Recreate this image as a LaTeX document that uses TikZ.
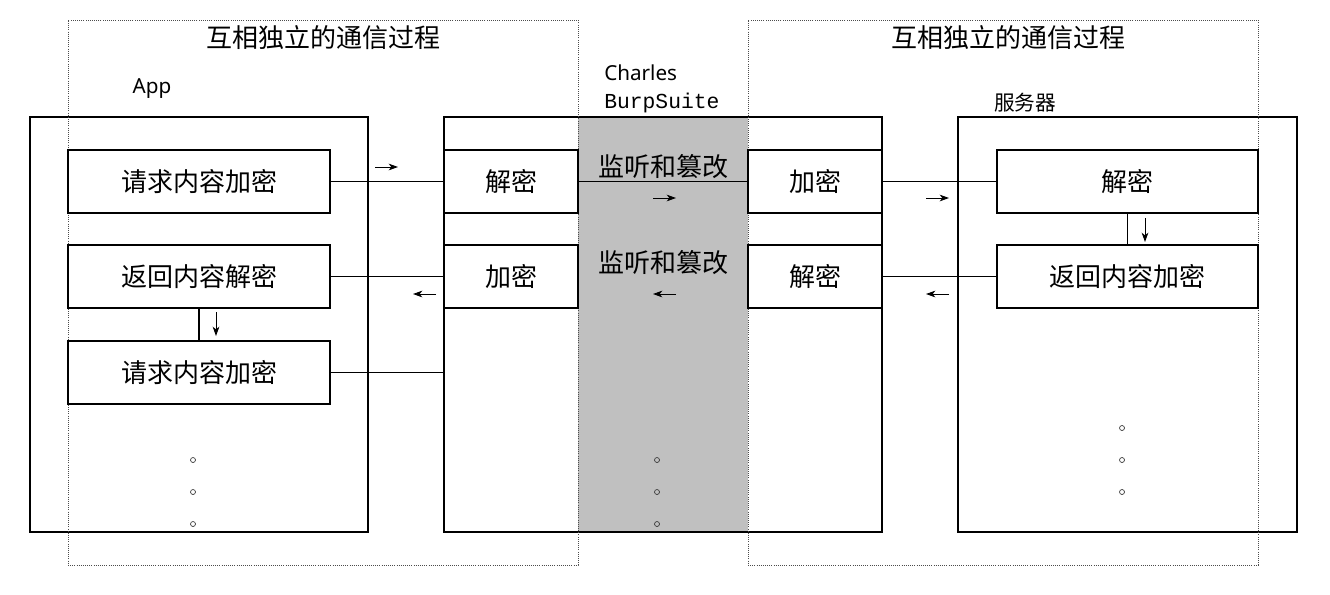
\documentclass[tikz,border=0pt]{standalone}
\usepackage{fontspec}
\newfontfamily\cjk{Noto Sans CJK SC}
\newfontfamily\latinsans{Noto Sans}
\newfontfamily\monof{Liberation Mono}
\usetikzlibrary{arrows.meta}
\definecolor{midgray}{RGB}{192,192,192}
\tikzset{
  px/.style={x=0.75pt,y=-0.75pt},
  outerbox/.style={draw=black,line width=1.1pt,inner sep=0pt},
  innerbox/.style={draw=black,line width=0.9pt,inner sep=0pt,font=\cjk\fontsize{19.5pt}{21pt}\selectfont},
  groupbox/.style={draw=black!70,densely dotted,line width=0.6pt,inner sep=0pt},
  conn/.style={line width=0.8pt},
  tiny/.style={line width=0.7pt,-{Stealth[length=7pt,width=5pt,inset=2pt]}},
  title/.style={font=\cjk\fontsize{19.5pt}{21pt}\selectfont,inner sep=0pt},
  lab/.style={font=\cjk\fontsize{15.5pt}{18pt}\selectfont,inner sep=0pt},
  latlab/.style={font=\latinsans\fontsize{15.5pt}{18pt}\selectfont,inner sep=0pt},
  dot/.style={draw=black!80,line width=0.5pt}
}
\begin{document}
\begin{tikzpicture}[px]
\useasboundingbox (0,0) rectangle (1330,594);
% gray interception area
\fill[midgray] (578,117) rectangle (748,532);
% outer boxes
\node[outerbox,minimum width=253.5pt,minimum height=311.25pt] (app) at (199,324.5) {};
\node[outerbox,minimum width=328.5pt,minimum height=311.25pt] (mid) at (663,324.5) {};
\node[outerbox,minimum width=254.25pt,minimum height=311.25pt] (srv) at (1127.5,324.5) {};
% dotted groups
\node[groupbox,minimum width=382.5pt,minimum height=408.75pt] (g1) at (323,292.5) {};
\node[groupbox,minimum width=382.5pt,minimum height=408.75pt] (g2) at (1003,292.5) {};
% titles and labels
\node[title] (t1) at (323,38) {互相独立的通信过程};
\node[title] (t2) at (1008,38) {互相独立的通信过程};
\node[latlab] (lapp) at (152,89) {App};
\node[latlab,anchor=west] (lch) at (604,73) {Charles};
\node[font=\monof\fontsize{16pt}{18pt}\selectfont,inner sep=0pt,anchor=west] (lbs) at (604,103) {BurpSuite};
\node[lab] (lsrv) at (1025,103) {服务器};
% App inner boxes
\node[innerbox,minimum width=196.5pt,minimum height=47.25pt] (a1) at (199,181.5) {请求内容加密};
\node[innerbox,minimum width=196.5pt,minimum height=47.25pt] (a2) at (199,276.5) {返回内容解密};
\node[innerbox,minimum width=196.5pt,minimum height=47.25pt] (a3) at (199,372.5) {请求内容加密};
% middle boxes
\node[innerbox,minimum width=100.5pt,minimum height=47.25pt] (m1) at (511,181.5) {解密};
\node[innerbox,minimum width=100.5pt,minimum height=47.25pt] (m2) at (511,276.5) {加密};
\node[innerbox,minimum width=100.5pt,minimum height=47.25pt] (r1) at (815,181.5) {加密};
\node[innerbox,minimum width=100.5pt,minimum height=47.25pt] (r2) at (815,276.5) {解密};
% server boxes
\node[innerbox,minimum width=195.75pt,minimum height=47.25pt] (s1) at (1127.5,181.5) {解密};
\node[innerbox,minimum width=195.75pt,minimum height=47.25pt] (s2) at (1127.5,276.5) {返回内容加密};
% gray texts
\node[title] (x1) at (663,167) {监听和篡改};
\node[title] (x2) at (663,263) {监听和篡改};
% connectors
\draw[conn] (a1.east) -- (m1.west);
\draw[conn] (a2.east) -- (m2.west);
\draw[conn] (a3.east) -- (a3.east -| mid.west);
\draw[conn] (m1.east) -- (r1.west);
\draw[conn] (r1.east) -- (s1.west);
\draw[conn] (r2.east) -- (s2.west);
\draw[conn] (a2.south) -- (a3.north);
\draw[conn] (s1.south) -- (s2.north);
% small direction arrows
\draw[tiny] (375,167) -- (398,167);
\draw[tiny] (436,294) -- (413,294);
\draw[tiny] (653,198) -- (676,198);
\draw[tiny] (676,294) -- (653,294);
\draw[tiny] (926,198) -- (949,198);
\draw[tiny] (949,294) -- (926,294);
\draw[tiny] (216,312) -- (216,336);
\draw[tiny] (1145,218) -- (1145,242);
% ellipsis dots
\foreach \yy in {460,492,524} {\draw[dot] (193,\yy) circle (2.5);}
\foreach \yy in {460,492,524} {\draw[dot] (657,\yy) circle (2.5);}
\foreach \yy in {428,460,492} {\draw[dot] (1122,\yy) circle (2.5);}
\end{tikzpicture}
\end{document}
